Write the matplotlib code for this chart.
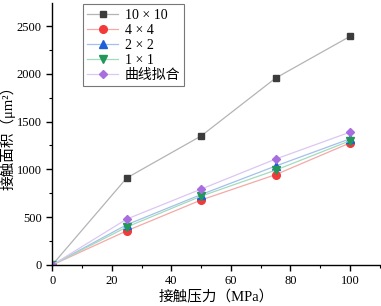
import numpy as np
import matplotlib
matplotlib.use("Agg")
from matplotlib import pyplot as plt
from matplotlib.ticker import MultipleLocator

plt.rcParams['font.family'] = ['Liberation Serif', 'Noto Sans CJK SC', 'DejaVu Sans']

pressure = [0, 25, 50, 75, 100]
area_10x10 = [0, 910, 1350, 1955, 2392]
area_4x4 = [0, 357, 680, 945, 1277]
area_2x2 = [0, 421, 737, 1035, 1320]
area_1x1 = [0, 397, 720, 992, 1300]
area_fit = [0, 480, 794, 1108, 1390]

labels = ['10 × 10', '4 × 4', '2 × 2', '1 × 1', '曲线拟合']
series = [area_10x10, area_4x4, area_2x2, area_1x1, area_fit]
marker_colors = ['#3c3c3c', '#f23a3a', '#1c5fd6', '#23975a', '#a86ee0']
line_colors = ['#b4b4b4', '#f6a8a8', '#a4c0ec', '#a2dcbc', '#dcc6f2']
markers = ['s', 'o', '^', 'v', 'D']
msizes = [5, 5.5, 5.5, 5.5, 4.5]

fig = plt.figure(figsize=(3.81, 3.06), dpi=100)
ax = fig.add_axes([0.137, 0.134, 0.86, 0.856])

for y, lab, mc, lc, m, ms in zip(series, labels, marker_colors, line_colors, markers, msizes):
    ax.plot(pressure, y, color=lc, lw=0.9, marker=m, markersize=ms,
            markerfacecolor=mc, markeredgecolor=mc, label=lab)

ax.set_xlim(0, 110)
ax.set_ylim(0, 2740)
ax.xaxis.set_major_locator(MultipleLocator(20))
ax.xaxis.set_minor_locator(MultipleLocator(10))
ax.yaxis.set_major_locator(MultipleLocator(500))
ax.yaxis.set_minor_locator(MultipleLocator(250))
ax.spines['top'].set_visible(False)
ax.spines['right'].set_visible(False)
for s in ['left', 'bottom']:
    ax.spines[s].set_linewidth(1.0)
ax.tick_params(which='major', direction='out', length=4, width=1.0, labelsize=9)
ax.tick_params(which='minor', direction='out', length=2.5, width=0.8)

ax.set_xlabel('接触压力（MPa）', fontsize=10.5, labelpad=2)
ax.set_ylabel('接触面积（μm²）', fontsize=10.5, labelpad=1)

leg = ax.legend(loc='upper left', bbox_to_anchor=(0.09, 1.0), fontsize=10,
                frameon=True, fancybox=False, edgecolor='#555555',
                handlelength=2.2, borderpad=0.3, labelspacing=0.15,
                handletextpad=0.5, borderaxespad=0.1)
leg.get_frame().set_linewidth(0.8)

fig.savefig('out.png', dpi=100)
